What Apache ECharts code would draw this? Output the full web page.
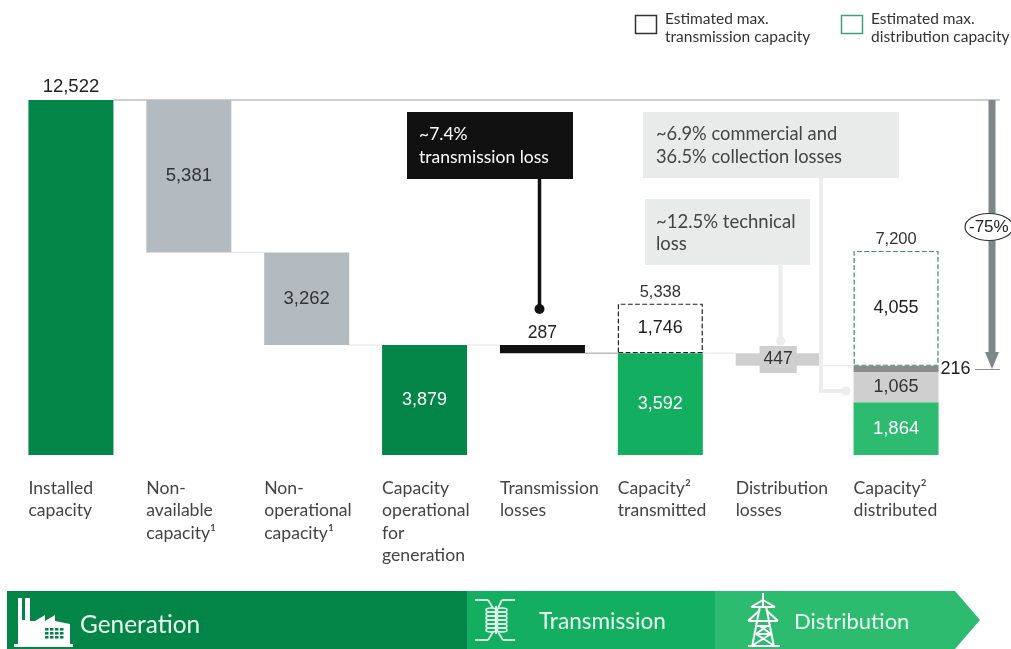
<!DOCTYPE html>
<html><head><meta charset="utf-8">
<style>html,body{margin:0;padding:0;background:#fff}#c{width:1011px;height:649px}</style>
<script src="https://cdn.jsdelivr.net/npm/echarts@6/dist/echarts.min.js"></script>
</head><body><div id="c"></div>
<script>
const categories = ['Installed\ncapacity','Non-\navailable\ncapacity¹','Non-\noperational\ncapacity¹','Capacity\noperational\nfor\ngeneration','Transmission\nlosses','Capacity²\ntransmitted','Distribution\nlosses','Capacity²\ndistributed'];
const baseValues = [0,7141,3879,0,3592,0,3145,0];
const mainValues = [12522,5381,3262,3879,287,3592,447,1864];
const collectionLoss = [null,null,null,null,null,null,null,1065];
const technicalGap = [null,null,null,null,null,null,null,216];
const spareCapacity = [null,null,null,null,null,1746,null,4055];
const totals = [null,null,null,null,null,5338,null,7200];
const connectors = [[0,8,12522],[1,2,7141],[2,3,3879],[3,4,3879],[4,5,3592],[5,6,3592],[6,7,3145]];
const mainColors = ['#038547','#b4bbc0','#b4bbc0','#038547','#111111','#13ae60','#cfcfcf','#2dbb6f'];
const mainLabelColors = ['#222','#333','#333','#fff','#222','#fff','#333','#fff'];

const numFont = '"Liberation Sans", Arial, sans-serif';
const txtFont = 'Lato, "Noto Sans", sans-serif';
const BW = 85;

function txt(x,y,text,size,color,extra){
  return {type:'text',x,y,z:30,style:Object.assign({text,fontSize:size,fontFamily:txtFont,fill:color,verticalAlign:'middle'},extra||{})};
}
function poly(points,fill,z){return {type:'polygon',z:z||20,shape:{points},style:{fill}};}
function ln(x1,y1,x2,y2,stroke,w,z){return {type:'line',z:z||8,shape:{x1,y1,x2,y2},style:{stroke,lineWidth:w}};}
function dot(cx,cy,r,fill){return {type:'circle',z:9,shape:{cx,cy,r},style:{fill}};}
function box(x,y,w,h,fill,z){return {type:'rect',z:z||7,shape:{x,y,width:w,height:h},style:{fill}};}

const W='#fff', IC='#e4f7ec';
const transformerLines = [[475,600,488,600],[488,600,493,608],[515,600,502,600],[502,600,498,608],[475,640,488,640],[488,640,493,632],[515,640,503,640],[503,640,498,632],[496,606,496,634]];
const towerLines = [[763,593,763,606],[763,600,751,607],[763,600,775,607],[751,607,775,607],[760,610,748,621],[766,610,778,621],[748,621,778,621],[760,606,752,647],[766,606,774,647],[757,626,770,626],[756,634,771,634],[760,626,771,634],[767,626,756,634],[756,634,773,645],[771,634,753,645],[748,646,780,646]];
const graphics = [
  // legend
  {type:'rect',z:10,shape:{x:635.5,y:15.5,width:21,height:18},style:{fill:'#fff',stroke:'#333',lineWidth:1.5}},
  txt(665,19,'Estimated max.',15.5,'#333'), txt(665,37,'transmission capacity',15.5,'#333'),
  {type:'rect',z:10,shape:{x:841.5,y:15.5,width:21,height:18},style:{fill:'#fff',stroke:'#3f9f80',lineWidth:1.5}},
  txt(871,19,'Estimated max.',15.5,'#333'), txt(871,37,'distribution capacity',15.5,'#333'),
  // callouts
  ln(539.5,178,539.5,309,'#111',3.5), dot(539.5,309,5,'#111'),
  box(407,112,166,67,'#111111',10),
  txt(419,134,'~7.4%',17.5,'#fff'), txt(419,157,'transmission loss',17.5,'#fff'),
  ln(780.5,262,780.5,341,'#ecedee',4), dot(780.5,341,4.5,'#ecedee'),
  box(645,199,165,66,'#e9ebeb',10),
  txt(656,222,'~12.5% technical',18.5,'#444'), txt(656,244,'loss',18.5,'#444'),
  {type:'polyline',z:8,shape:{points:[[821,175],[821,391],[848,391]]},style:{stroke:'#ecedee',lineWidth:4,fill:null}},
  dot(846,391,4.5,'#ecedee'),
  box(643,112,256,66,'#e9ebeb',10),
  txt(656,134,'~6.9% commercial and',18.3,'#444'), txt(656,157,'36.5% collection losses',18.3,'#444'),
  // -75% arrow
  ln(975,369.5,1000,369.5,'#8a9196',1),
  ln(992,100,992,352,'#7c868b',7),
  poly([[985,352],[999,352],[992,369]],'#7c868b'),
  {type:'ellipse',z:25,shape:{cx:989,cy:227,rx:24,ry:13.5},style:{fill:'#fff',stroke:'#333',lineWidth:1.2}},
  txt(969,227,'-75%',17,'#222',{fontFamily:numFont}),
  // banner
  poly([[7,591],[467,591],[467,649],[7,649]],'#038547'),
  poly([[467,591],[715,591],[715,649],[467,649]],'#13ae60'),
  poly([[715,591],[955,591],[980,620],[955,649],[715,649]],'#2dbb6f'),
  txt(80,625,'Generation',24.4,'#eafff2'),
  txt(539,622,'Transmission',22.6,'#eafff2'),
  txt(794,622,'Distribution',22,'#eafff2'),
  // factory icon
  poly([[18,598],[22,598],[22,620],[25,620],[25,598],[30,598],[30,621],[35,621],[45,615],[45,621],[55,615],[55,621],[70,624],[70,644],[73,644],[73,647],[14,647],[14,644],[18,644]],W,21),
  ...[0,1,2,3].flatMap(i=>[0,1,2].map(j=>box(45+i*5,628+j*4,3.5,2.6,'#038547',22))),
  // transformer icon
  ...transformerLines.map(p=>ln(p[0],p[1],p[2],p[3],IC,1.8,21)),
  dot(475,600,2,IC),dot(515,600,2,IC),dot(475,640,2,IC),dot(515,640,2,IC),
  ...[0,1,2,3,4,5].map(i=>({type:'ellipse',z:21,shape:{cx:491,cy:610+i*4,rx:5,ry:2},style:{fill:'none',stroke:IC,lineWidth:1.6}})),
  ...[0,1,2,3,4,5].map(i=>({type:'ellipse',z:21,shape:{cx:502,cy:610+i*4,rx:5,ry:2},style:{fill:'none',stroke:IC,lineWidth:1.6}})),
  // tower icon
  ...towerLines.map(p=>ln(p[0],p[1],p[2],p[3],W,2,21)),
];

const chart = echarts.init(document.getElementById('c'),null,{renderer:'canvas'});
const numLabel = (color,pos,extra)=>Object.assign({show:true,position:pos||'inside',color:color,fontFamily:numFont,fontSize:18.5,formatter:p=>p.value==null?'':Number(p.value).toLocaleString('en-US')},extra||{});

chart.setOption({
  animation:false,
  grid:{left:12,right:56,top:100,bottom:194,containLabel:false},
  xAxis:{type:'category',data:categories,axisLine:{show:false},axisTick:{show:false},
    axisLabel:{interval:0,margin:22,hideOverlap:false,
      formatter:v=>v.split('\n').map(s=>'{a|'+s+'}').join('\n'),
      rich:{a:{width:BW,align:'left',fontFamily:txtFont,fontSize:17.6,lineHeight:22.5,color:'#444'}}}},
  yAxis:{type:'value',min:0,max:12522,show:false,splitLine:{show:false}},
  graphic:graphics,
  series:[
    {type:'custom',name:'Connectors',z:1,silent:true,data:connectors,encode:{x:0,y:2},
      renderItem:(p,api)=>{
        const a=api.coord([api.value(0),api.value(2)]);
        const e=api.value(1);
        const b=e>7?[1000,a[1]]:[api.coord([e,api.value(2)])[0]-BW/2,a[1]];
        return {type:'line',shape:{x1:a[0]+BW/2,y1:a[1],x2:b[0],y2:b[1]},style:{stroke:e>7?'#9aa1a5':(api.value(0)===4?'#999':'#e4e4e4'),lineWidth:1}};
      }},
    {type:'bar',name:'Base',stack:'w',barWidth:BW,data:baseValues,itemStyle:{color:'transparent'},silent:true},
    {type:'bar',name:'Value',stack:'w',barWidth:BW,z:3,
      data:mainValues.map((v,i)=>{
        const d={value:v,itemStyle:{color:mainColors[i]}};
        const l=mainLabelColors[i];
        if(i===0)d.label=numLabel(l,'top',{distance:4});
        else if(i===4)d.label=numLabel(l,'top',{fontSize:17.5,distance:3,fontWeight:500});
        else if(i===6)d.label=numLabel(l,'inside',{fontSize:17.5,backgroundColor:'#cfcfcf',padding:[5,4,4,4]});
        else d.label=numLabel(l,'inside',{fontSize:i===5||i===3?18:18.5});
        return d;
      })},
    {type:'bar',name:'Collection loss',stack:'w',barWidth:BW,z:3,data:collectionLoss,itemStyle:{color:'#cfcfcf'},label:numLabel('#333','inside',{fontSize:18})},
    {type:'bar',name:'Technical gap',stack:'w',barWidth:BW,z:3,data:technicalGap,itemStyle:{color:'#8c8c8c'},label:numLabel('#222','right',{distance:2,fontSize:18})},
    {type:'bar',name:'Spare capacity',stack:'w',barWidth:BW,z:2,
      data:spareCapacity.map((v,i)=>({value:v,itemStyle:{color:'#fff',borderType:'dashed',borderWidth:1.2,borderColor:i===5?'#222':'#2f8f70'}})),
      label:numLabel('#222','inside',{fontSize:18})},
    {type:'scatter',name:'Total',symbolSize:0,itemStyle:{opacity:1},data:totals,silent:true,label:numLabel('#333','top',{distance:3,fontSize:16.5})},
  ]
});
</script></body></html>
